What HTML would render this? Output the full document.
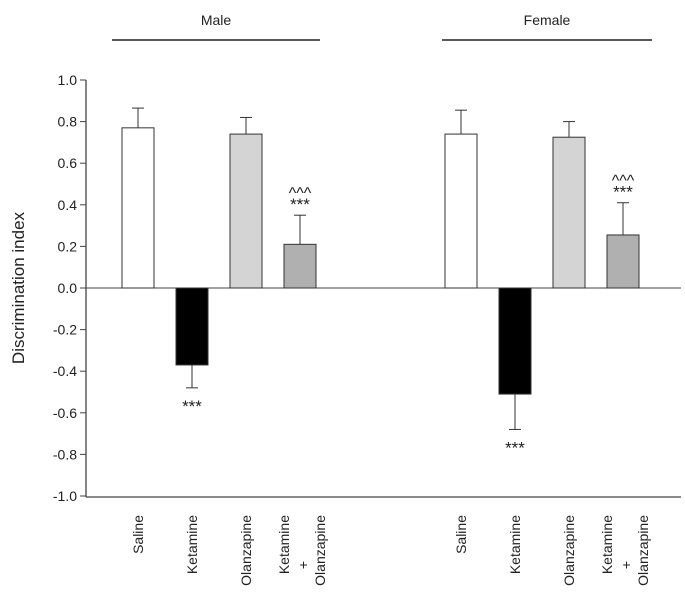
<!DOCTYPE html>
<html><head><meta charset="utf-8"><style>
body{margin:0;background:#fff;}
svg{display:block;font-family:"Liberation Sans",Arial,sans-serif;}
</style></head><body>
<svg id="chart" width="685" height="609" viewBox="0 0 685 609"></svg>
<script>
const categories=["Saline","Ketamine","Olanzapine","Ketamine + Olanzapine"];
const maleValues=[0.77,-0.37,0.74,0.21];
const maleErrors=[0.095,0.11,0.08,0.14];
const femaleValues=[0.74,-0.51,0.725,0.255];
const femaleErrors=[0.115,0.17,0.075,0.155];
const maleMarks=["","***","","***|^^^"];
const femaleMarks=["","***","","***|^^^"];
const yTicks=[1.0,0.8,0.6,0.4,0.2,0.0,-0.2,-0.4,-0.6,-0.8,-1.0];
const fills=["#ffffff","#000000","#d4d4d4","#b0b0b0"];
const NS="http://www.w3.org/2000/svg";
const svg=document.getElementById('chart');
function y(v){return 288-v*208;}
function mk(t,a,p){const e=document.createElementNS(NS,t);for(const k in a)e.setAttribute(k,a[k]);(p||svg).appendChild(e);return e;}
let ax=mk('line',{x1:86,y1:80,x2:86,y2:497,stroke:'#444','stroke-width':1.3});


let bx=mk('line',{x1:86,y1:497,x2:681,y2:497,stroke:'#444','stroke-width':1.3});


let zl=mk('line',{x1:86,y1:y(0),x2:681,y2:y(0),stroke:'#444','stroke-width':1});


yTicks.forEach(t=>{
 let l=mk('line',{x1:80,y1:y(t),x2:86,y2:y(t),stroke:'#444','stroke-width':1});
 
 
 let tx=mk('text',{x:77,y:y(t)+5,'text-anchor':'end','font-size':14,fill:'#222'});
 tx.textContent=t.toFixed(1);
 
 
});
let yt=mk('text',{x:0,y:0,transform:'translate(24,288) rotate(-90)','text-anchor':'middle','font-size':17,fill:'#222'});
yt.textContent='Discrimination index';


function group(x0,vals,errs,marks,title,lx1,lx2){
 let tt=mk('text',{x:(lx1+lx2)/2,y:25,'text-anchor':'middle','font-size':14,fill:'#222'});
 tt.textContent=title;
 
 
 let gl=mk('line',{x1:lx1,y1:40,x2:lx2,y2:40,stroke:'#222','stroke-width':1.5});
 
 
 vals.forEach((v,i)=>{
  const x=x0+i*54, w=32, cx=x+w/2;
  const top=Math.min(y(v),y(0)), h=Math.abs(y(v)-y(0));
  const ev=v>=0?v+errs[i]:v-errs[i];
  let el=mk('line',{x1:cx,y1:y(v),x2:cx,y2:y(ev),stroke:'#333','stroke-width':1});
  
  
  let ec=mk('line',{x1:cx-6,y1:y(ev),x2:cx+6,y2:y(ev),stroke:'#333','stroke-width':1});
  
  
  let r=mk('rect',{x:x,y:top,width:w,height:h,fill:fills[i],stroke:'#333','stroke-width':1});
  
  
  if(marks[i]){
   const parts=marks[i].split('|');
   parts.forEach((p,k)=>{
    const yy=v>=0?(p==='***'?y(ev)-5:y(ev)-17):y(ev)+24;
    let s=mk('text',{x:cx,y:yy,'text-anchor':'middle','font-size':p==='***'?17:16,fill:'#222'});
    s.textContent=p;
    
    
   });
  }
  const lines=categories[i]==="Ketamine + Olanzapine"?["Ketamine","+","Olanzapine"]:[categories[i]];
  const offs=lines.length===3?[5,24,41]:[21];
  lines.forEach((ln,k)=>{
   let c=mk('text',{x:0,y:0,transform:`translate(${x+offs[k]},515) rotate(-90)`,'text-anchor':ln==='+'?'middle':'end','font-size':14,fill:'#222'});
   if(ln==='+')c.setAttribute('transform',`translate(${x+offs[k]},${515+50}) rotate(-90)`);
   c.textContent=ln;
   
   
  });
 });
}
group(122,maleValues,maleErrors,maleMarks,'Male',112,320);
group(445,femaleValues,femaleErrors,femaleMarks,'Female',442,652);
</script>
</body></html>
